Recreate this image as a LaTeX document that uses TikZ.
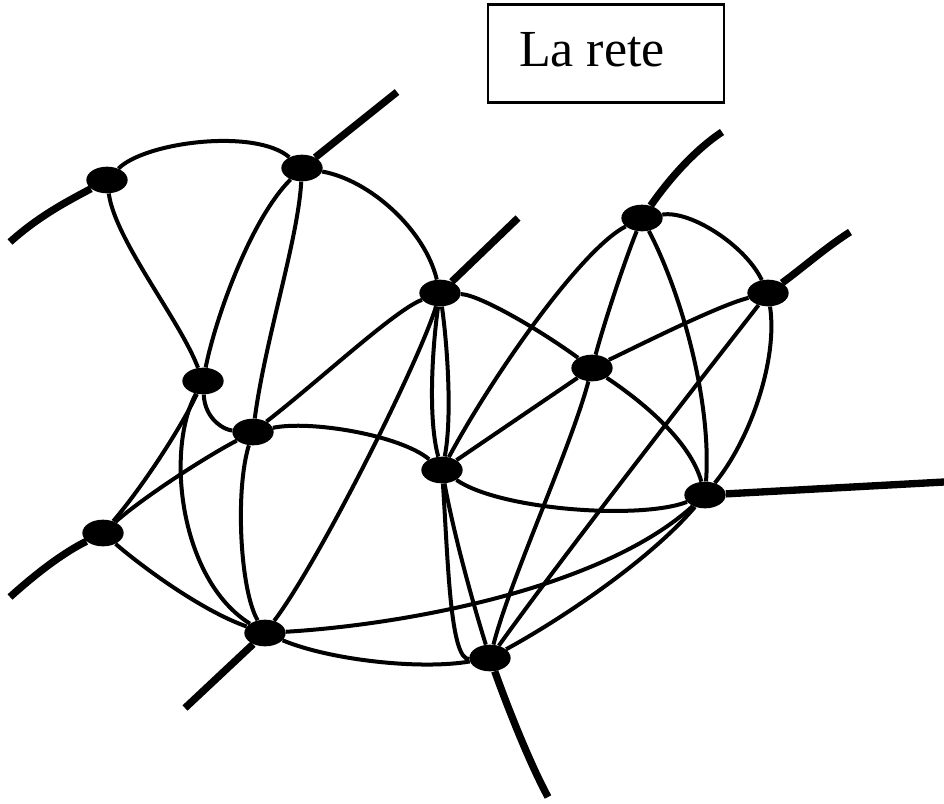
\documentclass[tikz,border=0pt]{standalone}
\usepackage{fontspec}
\setmainfont{Liberation Serif}
\usetikzlibrary{shapes.geometric}
\begin{document}
\begin{tikzpicture}[x=0.75pt,y=-0.75pt,
  hub/.style={ellipse, fill=black, inner sep=0pt, minimum width=31pt, minimum height=20pt},
  link/.style={line width=3pt},
  trunk/.style={line width=5.5pt},
  titlebox/.style={draw, line width=2.2pt, minimum width=177pt, minimum height=74pt, inner sep=0pt},
  titletext/.style={font=\fontsize{39pt}{41pt}\selectfont, inner sep=0pt, anchor=base}
  ]
\useasboundingbox (0,0) rectangle (944,803);
% title
\node[titlebox] (box) at (606,53.5) {};
\node[titletext] (title) at (592,66) {La rete};
% hubs
\node[hub] (A) at (107,180) {};
\node[hub] (B) at (302,168) {};
\node[hub] (C) at (440,293) {};
\node[hub] (D) at (642,218) {};
\node[hub] (E) at (768,293) {};
\node[hub] (F) at (592,368) {};
\node[hub] (G) at (203,381) {};
\node[hub] (H) at (253,432) {};
\node[hub] (I) at (442,470) {};
\node[hub] (J) at (705,495) {};
\node[hub] (K) at (103,533) {};
\node[hub] (L) at (265,633) {};
\node[hub] (M) at (490,658) {};
% free ends of trunks
\coordinate (a1) at (10,242);
\coordinate (b1) at (397,92);
\coordinate (c1) at (518,218);
\coordinate (d1) at (722,132);
\coordinate (e1) at (850,232);
\coordinate (j1) at (944,482);
\coordinate (k1) at (10,597);
\coordinate (l1) at (185,708);
\coordinate (m1) at (548,797);
% trunks
\draw[trunk] (A) .. controls (70,200) and (40,215) .. (a1);
\draw[trunk] (B) -- (b1);
\draw[trunk] (C) -- (c1);
\draw[trunk] (D) .. controls (670,178) and (695,150) .. (d1);
\draw[trunk] (E) .. controls (800,270) and (825,248) .. (e1);
\draw[trunk] (J) -- (j1);
\draw[trunk] (K) .. controls (65,552) and (40,570) .. (k1);
\draw[trunk] (L) -- (l1);
\draw[trunk] (M) .. controls (505,700) and (528,760) .. (m1);
% links
\draw[link] (A) .. controls (145,142) and (255,128) .. (B);
\draw[link] (A) .. controls (115,240) and (180,320) .. (G);
\draw[link] (B) .. controls (250,220) and (215,320) .. (G);
\draw[link] (B) .. controls (298,240) and (265,340) .. (H);
\draw[link] (B) .. controls (370,180) and (425,230) .. (C);
\draw[link] (C) .. controls (395,310) and (320,380) .. (H);
\draw[link] (C) .. controls (432,350) and (428,420) .. (I);
\draw[link] (C) .. controls (448,350) and (452,420) .. (I);
\draw[link] (C) .. controls (420,360) and (320,560) .. (L);
\draw[link] (C) .. controls (480,295) and (540,330) .. (F);
\draw[link] (H) .. controls (310,420) and (400,435) .. (I);
\draw[link] (H) .. controls (200,460) and (140,500) .. (K);
\draw[link] (G) .. controls (180,430) and (140,490) .. (K);
\draw[link] (G) .. controls (165,450) and (180,580) .. (L);
\draw[link] (G) .. controls (205,420) and (225,430) .. (H);
\draw[link] (H) .. controls (235,490) and (240,590) .. (L);
\draw[link] (K) .. controls (140,565) and (200,610) .. (L);
\draw[link] (L) .. controls (330,660) and (420,670) .. (M);
\draw[link] (L) .. controls (400,625) and (600,590) .. (J);
\draw[link] (I) .. controls (500,510) and (640,520) .. (J);
\draw[link] (I) -- (F);
\draw[link] (I) .. controls (490,380) and (580,250) .. (D);
\draw[link] (I) .. controls (455,540) and (475,610) .. (M);
\draw[link] (I) .. controls (448,560) and (450,660) .. (M);
\draw[link] (F) .. controls (650,340) and (720,305) .. (E);
\draw[link] (F) .. controls (605,320) and (625,260) .. (D);
\draw[link] (F) .. controls (640,400) and (690,440) .. (J);
\draw[link] (F) .. controls (570,450) and (510,580) .. (M);
\draw[link] (D) .. controls (690,210) and (745,245) .. (E);
\draw[link] (D) .. controls (680,290) and (712,400) .. (J);
\draw[link] (E) .. controls (778,360) and (750,440) .. (J);
\draw[link] (E) .. controls (700,380) and (560,560) .. (M);
\draw[link] (J) .. controls (650,560) and (560,620) .. (M);
\end{tikzpicture}
\end{document}
